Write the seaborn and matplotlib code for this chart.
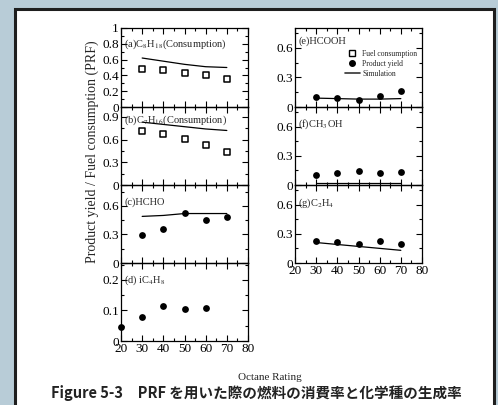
import matplotlib
matplotlib.use("Agg")
import matplotlib.pyplot as plt
import seaborn as sns
import pandas as pd
from matplotlib.patches import Rectangle
from matplotlib.lines import Line2D
from matplotlib.ticker import MultipleLocator

sns.set_style("ticks")
plt.rcParams['font.family'] = ['Liberation Serif', 'DejaVu Serif']
plt.rcParams['mathtext.fontset'] = 'stix'

# ---- data ----
octane = [30, 40, 50, 60, 70]
a_cons = [0.48, 0.47, 0.43, 0.41, 0.36]
a_sim = [0.62, 0.58, 0.54, 0.51, 0.50]
b_cons = [0.71, 0.67, 0.61, 0.53, 0.43]
b_sim = [0.83, 0.80, 0.77, 0.74, 0.72]
c_yield = [0.29, 0.36, 0.53, 0.45, 0.48]
c_sim = [0.49, 0.50, 0.52, 0.52, 0.52]
d_octane = [20, 30, 40, 50, 60]
d_yield = [0.045, 0.078, 0.113, 0.105, 0.109]
e_yield = [0.10, 0.09, 0.07, 0.11, 0.16]
e_sim = [0.09, 0.085, 0.08, 0.08, 0.085]
f_yield = [0.10, 0.125, 0.14, 0.12, 0.13]
f_sim = [0.02, 0.02, 0.02, 0.02, 0.02]
g_yield = [0.23, 0.22, 0.19, 0.23, 0.20]
g_sim = [0.21, 0.19, 0.17, 0.15, 0.13]

W, H = 498, 405
fig = plt.figure(figsize=(W / 100, H / 100), dpi=100)
fig.patch.set_facecolor('#b8ccd7')
bg = Rectangle((15 / W, -0.01), 479 / W, 1.01 - 9 / H, transform=fig.transFigure,
               facecolor='white', edgecolor='#1e1e1e', linewidth=2.2, zorder=-10)
fig.patches.append(bg)

def mkax(x0, x1, ytop, ybot):
    ax = fig.add_axes([x0 / W, 1 - ybot / H, (x1 - x0) / W, (ybot - ytop) / H])
    ax.set_zorder(1)
    ax.patch.set_alpha(0)
    return ax

LX0, LX1 = 121, 248
RX0, RX1 = 295, 422
bounds = [28, 107, 185, 263, 341]

ax_a = mkax(LX0, LX1, bounds[0], bounds[1])
ax_b = mkax(LX0, LX1, bounds[1], bounds[2])
ax_c = mkax(LX0, LX1, bounds[2], bounds[3])
ax_d = mkax(LX0, LX1, bounds[3], bounds[4])
ax_e = mkax(RX0, RX1, bounds[0], bounds[1])
ax_f = mkax(RX0, RX1, bounds[1], bounds[2])
ax_g = mkax(RX0, RX1, bounds[2], bounds[3])

sq = dict(marker='s', s=22, facecolor='white', edgecolor='black', linewidth=1.1, zorder=3)
ci = dict(marker='o', s=24, color='black', linewidth=0, zorder=3)
ln = dict(color='black', linewidth=0.9, zorder=2)

def fmt(t):
    if abs(t) < 1e-9:
        return '0'
    if abs(t - round(t)) < 1e-9:
        return str(int(round(t)))
    return ('%.1f' % t)

def setup(ax, ylim, ymaj, label, bottom_labels, ly=0.81):
    ax.set_xlim(20, 80)
    ax.set_ylim(*ylim)
    ax.xaxis.set_major_locator(MultipleLocator(10))
    ax.xaxis.set_minor_locator(MultipleLocator(5))
    ax.yaxis.set_major_locator(MultipleLocator(ymaj))
    ax.yaxis.set_minor_locator(MultipleLocator(ymaj / 2))
    ax.tick_params(which='both', direction='in', top=True, right=True, labelsize=9.5,
                   width=0.8, colors='black', pad=1.5)
    ax.tick_params(which='major', length=4)
    ax.tick_params(which='minor', length=2)
    yt = [t for t in ax.get_yticks() if ylim[0] - 1e-9 <= t <= ylim[1] + 1e-9]
    ax.set_yticks(yt)
    ax.set_yticklabels([fmt(t) for t in yt])
    ax.set_ylim(*ylim)
    if not bottom_labels:
        ax.set_xticklabels([])
    for s in ax.spines.values():
        s.set_linewidth(0.9)
        s.set_color('black')
    ax.text(0.025, ly, label, transform=ax.transAxes, fontsize=7.5, va='center', ha='left')
    ax.set_xlabel('')
    ax.set_ylabel('')

sns.scatterplot(x=octane, y=a_cons, ax=ax_a, **sq)
sns.lineplot(x=octane, y=a_sim, ax=ax_a, **ln)
setup(ax_a, (0, 1.0), 0.2, r'(a)C$_8$H$_{18}$(Consumption)', False, 0.80)

sns.scatterplot(x=octane, y=b_cons, ax=ax_b, **sq)
sns.lineplot(x=octane, y=b_sim, ax=ax_b, **ln)
setup(ax_b, (0, 1.03), 0.3, r'(b)C$_7$H$_{16}$(Consumption)', False, 0.83)

sns.scatterplot(x=octane, y=c_yield, ax=ax_c, **ci)
sns.lineplot(x=octane, y=c_sim, ax=ax_c, **ln)
setup(ax_c, (0, 0.82), 0.3, r'(c)HCHO', False, 0.78)

sns.scatterplot(x=d_octane, y=d_yield, ax=ax_d, clip_on=False, **ci)
setup(ax_d, (0, 0.255), 0.1, r'(d) iC$_4$H$_8$', True, 0.78)

sns.scatterplot(x=octane, y=e_yield, ax=ax_e, **ci)
sns.lineplot(x=octane, y=e_sim, ax=ax_e, **ln)
setup(ax_e, (0, 0.8), 0.3, r'(e)HCOOH', False, 0.83)

sns.scatterplot(x=octane, y=f_yield, ax=ax_f, **ci)
sns.lineplot(x=octane, y=f_sim, ax=ax_f, **ln)
setup(ax_f, (0, 0.8), 0.3, r'(f)CH$_3$OH', False, 0.78)

sns.scatterplot(x=octane, y=g_yield, ax=ax_g, **ci)
sns.lineplot(x=octane, y=g_sim, ax=ax_g, **ln)
setup(ax_g, (0, 0.8), 0.3, r'(g)C$_2$H$_4$', True, 0.77)

handles = [
    Line2D([], [], marker='s', linestyle='none', markerfacecolor='white', markeredgecolor='black', markersize=4.5),
    Line2D([], [], marker='o', linestyle='none', color='black', markersize=4),
    Line2D([], [], color='#333333', linewidth=1.2),
]
ax_e.legend(handles, ['Fuel consumption', 'Product yield', 'Simulation'], loc='upper right',
            bbox_to_anchor=(1.0, 0.78), frameon=False, fontsize=5.5, handlelength=2.0,
            handletextpad=0.3, labelspacing=0.25, borderaxespad=0.2)

fig.text(92 / W, 1 - 152 / H, 'Product yield / Fuel consumption (PRF)', rotation=90,
         ha='center', va='center', fontsize=10)
fig.text(270 / W, 1 - 377 / H, 'Octane Rating', ha='center', va='center', fontsize=8)
fig.text(256 / W, 1 - 393 / H, 'Figure 5-3\u3000PRF を用いた際の燃料の消費率と化学種の生成率',
         ha='center', va='center', fontsize=10.5, fontweight='bold', color='#222222',
         family=['Noto Sans CJK JP', 'DejaVu Sans'])

fig.savefig('out.png', dpi=100, facecolor=fig.get_facecolor())
